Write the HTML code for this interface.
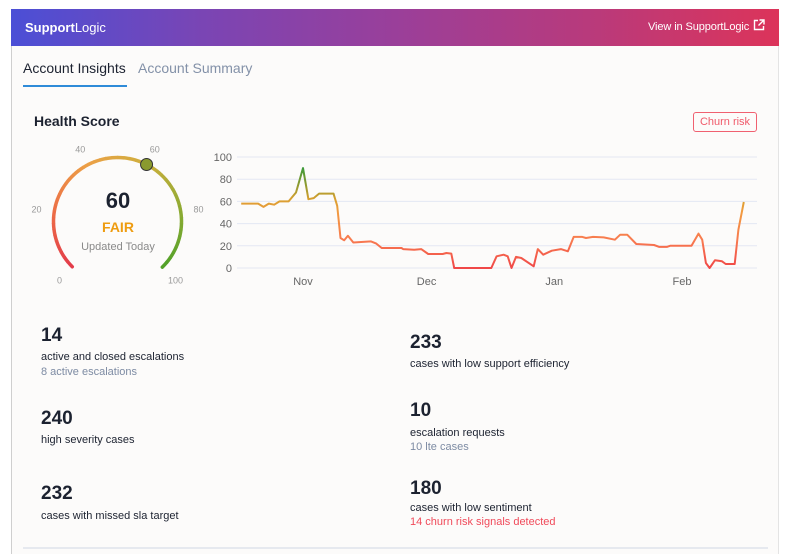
<!DOCTYPE html>
<html><head><meta charset="utf-8">
<style>
*{box-sizing:border-box;margin:0;padding:0}
body{width:788px;height:550px;overflow:hidden;background:#fff;font-family:"Liberation Sans",sans-serif;position:relative;color:#1c2230}
.abs{position:absolute;white-space:nowrap}
#card{position:absolute;left:11px;top:9px;width:768px;height:545px;background:#fcfbfa;border-left:1px solid #cfcfcf;border-right:1px solid #e4e4e4}
#hdr{position:absolute;left:11px;top:9px;width:768px;height:37px;background:linear-gradient(90deg,#4b4fd6 0%,#7a45b4 25%,#9a3f9a 50%,#b83a7c 75%,#dc345a 100%)}
.num{font-size:19px;font-weight:bold;color:#1c2230}
.lbl{font-size:11px;color:#1c2230}
.sub{font-size:11px;color:#7d8ba3}
</style></head><body>
<div id="card"></div>
<div id="hdr"></div>
<div class="abs" style="left:25px;top:20px;font-size:13px;color:#fff"><b>Support</b>Logic</div>
<div class="abs" style="left:648px;top:21px;font-size:11px;color:#fff;letter-spacing:-0.1px">View in SupportLogic</div>
<svg class="abs" style="left:753px;top:19px" width="12" height="12"><path d="M5 1.5H1.5V10.5H10.5V7" fill="none" stroke="#fff" stroke-width="1.4"/><path d="M6.5 1H11V5.5M11 1L5.5 6.5" fill="none" stroke="#fff" stroke-width="1.4"/></svg>
<div class="abs" style="left:23px;top:60px;font-size:14px;color:#1c2230">Account Insights</div>
<div class="abs" style="left:23px;top:85px;width:104px;height:2px;background:#2f8bd8"></div>
<div class="abs" style="left:138px;top:60px;font-size:14px;color:#8391a8">Account Summary</div>
<div class="abs" style="left:34px;top:113px;font-size:14px;font-weight:bold">Health Score</div>
<div class="abs" style="left:693px;top:112px;width:64px;height:20px;border:1px solid #f06070;border-radius:3px;color:#f05a6a;font-size:11px;text-align:center;line-height:19px">Churn risk</div>

<svg class="abs" style="left:0;top:0" width="788" height="310">
<defs>
<linearGradient id="lg" gradientUnits="userSpaceOnUse" x1="0" y1="268" x2="0" y2="157">
<stop offset="0" stop-color="#f04848"/><stop offset="0.25" stop-color="#f87a50"/><stop offset="0.5" stop-color="#f29a40"/><stop offset="0.62" stop-color="#d8a030"/><stop offset="0.75" stop-color="#8e9a30"/><stop offset="0.9" stop-color="#3d9a3a"/><stop offset="1" stop-color="#3d9a3a"/>
</linearGradient>
</defs>
<g id="gauge"></g>
<g id="line"></g>
</svg>
<div class="abs" style="left:88px;top:188px;width:60px;text-align:center;font-size:22px;font-weight:bold">60</div>
<div class="abs" style="left:78px;top:219px;width:80px;text-align:center;font-size:14px;font-weight:bold;color:#ee9c10">FAIR</div>
<div class="abs" style="left:68px;top:241px;width:100px;text-align:center;font-size:11px;color:#8a8a8a">Updated Today</div>

<div class="abs num" style="left:41px;top:325px">14</div>
<div class="abs lbl" style="left:41px;top:351px">active and closed escalations</div>
<div class="abs sub" style="left:41px;top:366px">8 active escalations</div>
<div class="abs num" style="left:41px;top:408px">240</div>
<div class="abs lbl" style="left:41px;top:434px">high severity cases</div>
<div class="abs num" style="left:41px;top:483px">232</div>
<div class="abs lbl" style="left:41px;top:510px">cases with missed sla target</div>
<div class="abs num" style="left:410px;top:332px">233</div>
<div class="abs lbl" style="left:410px;top:358px">cases with low support efficiency</div>
<div class="abs num" style="left:410px;top:400px">10</div>
<div class="abs lbl" style="left:410px;top:427px">escalation requests</div>
<div class="abs sub" style="left:410px;top:441px">10 lte cases</div>
<div class="abs num" style="left:410px;top:478px">180</div>
<div class="abs lbl" style="left:410px;top:502px">cases with low sentiment</div>
<div class="abs sub" style="left:410px;top:516px;color:#f04a5a">14 churn risk signals detected</div>
<div class="abs" style="left:23px;top:547px;width:745px;height:2px;background:#e6e9ef"></div>

<script>
const days=[-15,-10.9,-9.6,-8.3,-7,-5.7,-3.5,-1.7,0,1.3,2.6,3.9,7.4,8.3,9.1,10,10.9,12.2,16.5,17.8,19.1,23.9,24.3,27,28.7,30.4,33.9,34.8,36,36.7,45.7,47,48.7,49.7,50.6,51.7,53,56,57,58.3,60.4,62.6,64.3,65.7,67.8,68.7,70.4,73,75.7,77,78.7,80.9,85.2,86.5,88.3,89.1,94.3,96,96.9,97.8,98.7,100,101.7,102.6,104.8,105.7,107];
const scores=[58,58,55,58,57,60,60,68,90,62,63,67,67,56,27,25,29,23,24,22,18,18,17,16.5,17,12.6,12.6,13.5,13,0,0,10.5,12,10.5,0,10,9,1.5,17,12,15.6,17,15,28,28,27,28,27.6,25.5,30,30,21.6,20.7,19,19,20,20,31,25.5,4.5,0,7,6,3.6,3.6,34.5,59.5];
const yTicks=[0,20,40,60,80,100];
const monthLabels=["Nov","Dec","Jan","Feb"];
const monthDays=[0,30,61,92];
const gaugeValue=60;
const gaugeTicks=[0,20,40,60,80,100];

const NS="http://www.w3.org/2000/svg";
function mk(t,a,p){const e=document.createElementNS(NS,t);for(const k in a)e.setAttribute(k,a[k]);p.appendChild(e);return e;}
const xS=d=>303+d*(682-303)/92;
const yS=v=>268-v*1.11;
const L=document.getElementById('line');
yTicks.forEach(t=>{
  const g=mk('line',{x1:237,x2:757,y1:yS(t),y2:yS(t),stroke:'#e3e7f3','stroke-width':1},L);
  
  
  const tx=mk('text',{x:232,y:yS(t)+4,'text-anchor':'end','font-size':11,fill:'#666','font-family':'Liberation Sans, sans-serif'},L);
  tx.textContent=t;
  
  
});
monthLabels.forEach((m,i)=>{
  const tx=mk('text',{x:xS(monthDays[i]),y:285,'text-anchor':'middle','font-size':11,fill:'#666','font-family':'Liberation Sans, sans-serif'},L);
  tx.textContent=m;
  
  
});
let d='';
days.forEach((dd,i)=>{d+=(i?'L':'M')+xS(dd).toFixed(1)+','+yS(scores[i]).toFixed(1);});
const p=mk('path',{d:d,fill:'none',stroke:'url(#lg)','stroke-width':2,'stroke-linejoin':'round'},L);



// gauge
const G=document.getElementById('gauge');
const cx=117.5,cy=221.5,r=64;
const ang=v=>(-135+v*2.7)*Math.PI/180;
const pt=(v,rr)=>[cx+rr*Math.sin(ang(v)),cy-rr*Math.cos(ang(v))];
const cols=[[226,58,74],[236,110,70],[236,160,70],[205,175,60],[140,170,50],[80,160,40]];
function col(v){const f=v/20,i=Math.min(4,Math.floor(f)),t=f-i;const a=cols[i],b=cols[i+1];return 'rgb('+a.map((c,k)=>Math.round(c+(b[k]-c)*t)).join(',')+')';}
for(let v=0;v<100;v+=2){
  const a=pt(v,r),b=pt(v+2.2,r);
  const s=mk('path',{d:`M${a[0]},${a[1]}A${r},${r} 0 0 1 ${b[0]},${b[1]}`,fill:'none',stroke:col(v+1),'stroke-width':3.5,'stroke-linecap':v==0||v==98?'round':'butt'},G);
  
  
}
gaugeTicks.forEach(t=>{
  const q=pt(t,r+18);
  const tx=mk('text',{x:q[0],y:q[1]+4,'text-anchor':'middle','font-size':9,fill:'#999','font-family':'Liberation Sans, sans-serif'},G);
  tx.textContent=t;
  
  
});
const k=pt(gaugeValue,r);
const kn=mk('circle',{cx:k[0],cy:k[1],r:6,fill:'#8a9a2e',stroke:'#333','stroke-width':1},G);


</script>
</body></html>
